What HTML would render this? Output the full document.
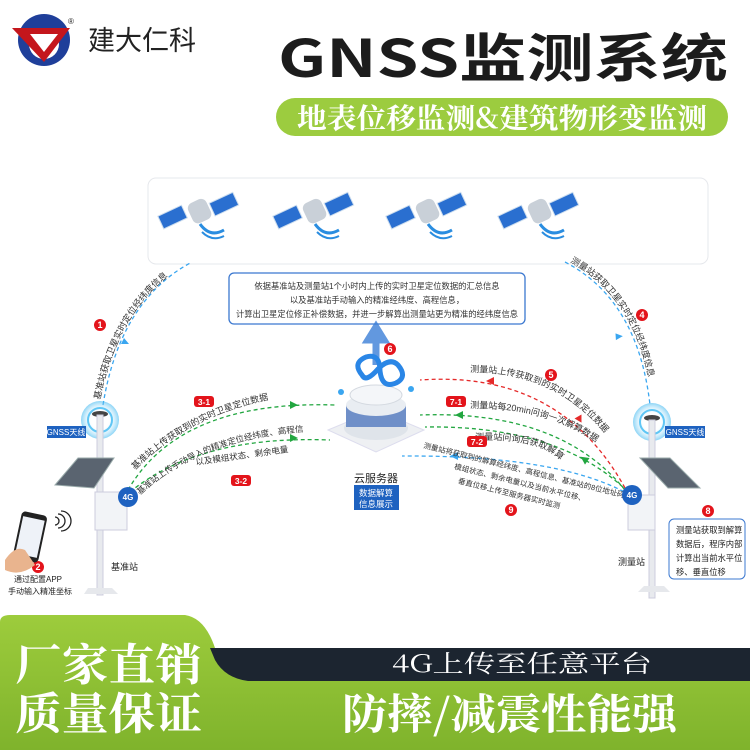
<!DOCTYPE html>
<html><head><meta charset="utf-8"><style>
html,body{margin:0;padding:0;background:#fff}
svg{display:block}
text{font-family:"Liberation Sans","Noto Sans CJK SC",sans-serif}
.s{font-family:"Noto Serif CJK SC","Liberation Serif",serif}
.t{font-family:"Noto Sans CJK SC",sans-serif}
</style></head><body>
<svg width="750" height="750" viewBox="0 0 750 750" xmlns="http://www.w3.org/2000/svg">
<defs>
<radialGradient id="ring" cx="50%" cy="50%" r="50%"><stop offset="0.4" stop-color="#fff" stop-opacity="0"/><stop offset="1" stop-color="#3fb8f0" stop-opacity="0.6"/></radialGradient>
<linearGradient id="gb" x1="0" y1="0" x2="0" y2="1"><stop offset="0" stop-color="#9dcc3c"/><stop offset="1" stop-color="#7fb32c"/></linearGradient>
<g id="sat">
<rect x="-40" y="-14" width="26" height="14" fill="#2a6fd0" stroke="#cde" transform="rotate(-25)"/>
<rect x="12" y="-4" width="26" height="14" fill="#2a6fd0" stroke="#cde" transform="rotate(-25)"/>
<rect x="-10" y="-12" width="20" height="22" rx="6" fill="#c9d0d8" transform="rotate(-25)"/>
<path d="M0,12 q10,14 24,6" fill="none" stroke="#2a8de0" stroke-width="3"/>
<path d="M2,20 q10,10 22,4" fill="none" stroke="#2a8de0" stroke-width="2"/>
</g>
<path id="p1" d="M100,400 Q120,300 190,262"/>
<path id="p4" d="M570,262 Q640,300 652,400"/>
<path id="p31" d="M135,470 Q200,405 300,395"/>
<path id="p32" d="M140,495 Q200,440 300,432"/>
<path id="p5" d="M470,372 Q560,372 610,440"/>
<path id="p71" d="M470,408 Q550,408 600,445"/>
<path id="p72" d="M475,440 Q540,438 560,460"/>
</defs>

<!-- logo -->
<circle cx="44" cy="40" r="26" fill="#1f3f9a"/>
<circle cx="44" cy="44" r="15" fill="#fff"/>
<path d="M12,28 L70,28 L44,62z" fill="#c4161c"/>
<path d="M30,34 L58,34 L44,52z" fill="#fff"/>
<text x="88" y="50" font-size="27" fill="#222">建大仁科</text>
<text x="68" y="24" font-size="8" fill="#222">®</text>

<!-- title -->
<text x="278" y="77" class="t" font-size="52" font-weight="bold" fill="#1c1c1c" textLength="450" lengthAdjust="spacingAndGlyphs">GNSS监测系统</text>
<rect x="276" y="98" width="452" height="38" rx="19" fill="#9ccc3f"/>
<text x="297" y="128" class="s" font-size="28" font-weight="bold" fill="#fff" textLength="410" lengthAdjust="spacingAndGlyphs">地表位移监测&amp;建筑物形变监测</text>

<!-- satellite box -->
<rect x="148" y="178" width="560" height="86" rx="8" fill="#fff" stroke="#e6e8ec"/>
<use href="#sat" x="200" y="212"/><use href="#sat" x="315" y="212"/><use href="#sat" x="428" y="212"/><use href="#sat" x="540" y="212"/>

<!-- info box -->
<rect x="229" y="273" width="296" height="51" rx="5" fill="#fff" stroke="#3b78d0" stroke-width="1.3"/>
<g font-size="8.3" fill="#333" text-anchor="middle">
<text x="377" y="289">依据基准站及测量站1个小时内上传的实时卫星定位数据的汇总信息</text>
<text x="377" y="303">以及基准站手动输入的精准经纬度、高程信息，</text>
<text x="377" y="317">计算出卫星定位修正补偿数据，并进一步解算出测量站更为精准的经纬度信息</text>
</g>
<path d="M376,365 L376,340 L368,340 L376,327 L384,340 L376,340" fill="#3b7fd8" stroke="#3b7fd8" stroke-width="7" opacity="0.8"/>

<!-- arcs -->
<g fill="none" stroke-width="1.3" stroke-dasharray="4,3">
<path d="M103,405 Q120,300 192,262" stroke="#3aa6f0"/>
<path d="M565,262 Q638,300 650,405" stroke="#3aa6f0"/>
<path d="M128,490 Q180,400 335,405" stroke="#22a640"/>
<path d="M130,492 Q200,435 330,440" stroke="#22a640"/>
<path d="M625,488 Q560,370 420,380" stroke="#e52a2a"/>
<path d="M625,490 Q560,410 420,415" stroke="#22a640"/>
<path d="M628,492 Q560,425 425,427" stroke="#22a640"/>
<path d="M630,495 Q560,455 402,456" stroke="#3aa6f0"/>
</g>
<path d="M124,338 l5,6 l-8,0z" fill="#3aa6f0"/>
<path d="M617,333 l5,6 l-8,0z" fill="#3aa6f0" transform="rotate(-30 617 336)"/>
<path d="M290,405 l8,-4 l0,8z" fill="#22a640" transform="rotate(180 294 405)"/>
<path d="M290,438 l8,-4 l0,8z" fill="#22a640" transform="rotate(180 294 438)"/>
<path d="M486,381 l8,-4 l0,8z" fill="#e52a2a"/>
<path d="M577,420 l7,-4 l0,8z" fill="#e52a2a" transform="rotate(-120 580 420)"/>
<path d="M455,415 l8,-4 l0,8z" fill="#22a640"/>
<path d="M580,459 l8,-4 l0,8z" fill="#22a640" transform="rotate(35 584 459)"/>
<path d="M450,456 l8,-4 l0,8z" fill="#3aa6f0"/>

<g font-size="9" fill="#333">
<text><textPath href="#p1">基准站获取卫星实时定位经纬度信息</textPath></text>
<text><textPath href="#p4">测量站获取卫星实时定位经纬度信息</textPath></text>
<text><textPath href="#p31">基准站上传获取到的实时卫星定位数据</textPath></text>
<text font-size="8.5"><textPath href="#p32">基准站上传手动导入的精准定位经纬度、高程信息</textPath></text>
<text x="196" y="465" font-size="8.5" transform="rotate(-8 196 465)">以及模组状态、剩余电量</text>
<text><textPath href="#p5">测量站上传获取到的实时卫星定位数据</textPath></text>
<text><textPath href="#p71">测量站每20min问询一次解算数据</textPath></text>
<text><textPath href="#p72">测量站问询后获取解算数据</textPath></text>
</g>
<g font-size="7.5" fill="#333" transform="rotate(14 500 470)">
<text x="420" y="467">测量站将获取到的解算经纬度、高程信息、基准站的8位地址码、</text>
<text x="455" y="480">模组状态、剩余电量以及当前水平位移、</text>
<text x="462" y="493">垂直位移上传至服务器实时监测</text>
</g>

<!-- number badges -->
<g font-size="9" font-weight="bold" fill="#fff" text-anchor="middle">
<circle cx="100" cy="325" r="6" fill="#e3141b"/><text x="100" y="328">1</text>
<circle cx="38" cy="567" r="6" fill="#e3141b"/><text x="38" y="570">2</text>
<circle cx="642" cy="315" r="6" fill="#e3141b"/><text x="642" y="318">4</text>
<circle cx="551" cy="375" r="6" fill="#e3141b"/><text x="551" y="378">5</text>
<circle cx="390" cy="349" r="6" fill="#e3141b"/><text x="390" y="352">6</text>
<circle cx="708" cy="511" r="6" fill="#e3141b"/><text x="708" y="514">8</text>
<circle cx="511" cy="510" r="6" fill="#e3141b"/><text x="511" y="513">9</text>
<rect x="194" y="396" width="20" height="11" rx="3" fill="#e3141b"/><text x="204" y="405" font-size="8.5">3-1</text>
<rect x="231" y="475" width="20" height="11" rx="3" fill="#e3141b"/><text x="241" y="484" font-size="8.5">3-2</text>
<rect x="446" y="396" width="20" height="11" rx="3" fill="#e3141b"/><text x="456" y="405" font-size="8.5">7-1</text>
<rect x="467" y="436" width="20" height="11" rx="3" fill="#e3141b"/><text x="477" y="445" font-size="8.5">7-2</text>
</g>

<!-- server -->
<path d="M328,430 L376,410 L424,430 L376,452z" fill="#eef0f3" stroke="#dde"/>
<ellipse cx="376" cy="428" rx="32" ry="12" fill="#dfe4ea"/>
<rect x="346" y="405" width="60" height="22" fill="#6f8fc8"/>
<ellipse cx="376" cy="405" rx="30" ry="11" fill="#e9edf2"/>
<ellipse cx="376" cy="395" rx="26" ry="10" fill="#f4f6f9" stroke="#d4d9e0"/>
<path d="M362,375 q-10,-12 4,-18 q14,-4 14,14 q2,18 16,12 q12,-6 2,-18 q-8,-8 -20,4 q-12,14 -16,6z" fill="none" stroke="#2a86e6" stroke-width="5"/>
<circle cx="341" cy="392" r="3" fill="#3aa6f0"/><circle cx="411" cy="389" r="3" fill="#3aa6f0"/>
<text x="376" y="482" font-size="11" text-anchor="middle" fill="#222">云服务器</text>
<rect x="354" y="485" width="45" height="25" fill="#1e62c0"/>
<text x="376" y="496" font-size="8.5" text-anchor="middle" fill="#fff">数据解算</text>
<text x="376" y="507" font-size="8.5" text-anchor="middle" fill="#fff">信息展示</text>

<!-- left station -->
<circle cx="100" cy="420" r="19" fill="url(#ring)"/>
<circle cx="100" cy="420" r="12" fill="none" stroke="#5fc6f5" stroke-width="2"/>
<ellipse cx="100" cy="414" rx="8" ry="3" fill="#444"/>
<rect x="97" y="415" width="6" height="180" fill="#e8eaee" stroke="#ccd"/>
<rect x="47" y="426" width="39" height="12" fill="#1e62c0"/>
<text x="66" y="435" font-size="8" text-anchor="middle" fill="#fff">GNSS天线</text>
<path d="M55,485 L78,458 L114,458 L94,488z" fill="#5a6470" stroke="#9aa"/>
<rect x="95" y="492" width="32" height="38" fill="#f2f4f7" stroke="#ccd"/>
<circle cx="128" cy="497" r="10" fill="#1e62c0"/>
<text x="128" y="500" font-size="8" font-weight="bold" text-anchor="middle" fill="#fff">4G</text>
<path d="M84,594 L118,594 L112,588 L88,588z" fill="#e6e8ec"/>
<text x="111" y="570" font-size="9" fill="#222">基准站</text>
<g transform="rotate(12 30 537)"><rect x="17" y="513" width="26" height="48" rx="4" fill="#222"/><rect x="19" y="518" width="22" height="38" fill="#eef2f8"/></g>
<path d="M5,560 q10,-15 20,-10 l10,15 q-15,12 -30,5z" fill="#e9b48e"/>
<path d="M55,517 a4,4 0 0 1 0,8 M58,514 a7,7 0 0 1 0,14 M61,511 a10,10 0 0 1 0,20" fill="none" stroke="#222" stroke-width="1.3"/>
<text x="38" y="582" font-size="8" text-anchor="middle" fill="#222">通过配置APP</text>
<text x="40" y="594" font-size="8" text-anchor="middle" fill="#222">手动输入精准坐标</text>

<!-- right station -->
<circle cx="652" cy="422" r="19" fill="url(#ring)"/>
<circle cx="652" cy="422" r="12" fill="none" stroke="#5fc6f5" stroke-width="2"/>
<ellipse cx="652" cy="418" rx="8" ry="3" fill="#444"/>
<rect x="649" y="420" width="6" height="178" fill="#e8eaee" stroke="#ccd"/>
<rect x="665" y="426" width="40" height="12" fill="#1e62c0"/>
<text x="685" y="435" font-size="8" text-anchor="middle" fill="#fff">GNSS天线</text>
<path d="M640,458 L670,458 L700,488 L668,488z" fill="#5a6470" stroke="#9aa"/>
<rect x="628" y="495" width="27" height="35" fill="#f2f4f7" stroke="#ccd"/>
<circle cx="632" cy="495" r="10" fill="#1e62c0"/>
<text x="632" y="498" font-size="8" font-weight="bold" text-anchor="middle" fill="#fff">4G</text>
<path d="M638,592 L670,592 L664,586 L644,586z" fill="#e6e8ec"/>
<text x="618" y="565" font-size="9" fill="#222">测量站</text>
<rect x="669" y="519" width="76" height="60" rx="5" fill="#fff" stroke="#3b78d0"/>
<g font-size="8.3" fill="#222"><text x="676" y="533">测量站获取到解算</text><text x="676" y="547">数据后，程序内部</text><text x="676" y="561">计算出当前水平位</text><text x="676" y="575">移、垂直位移</text></g>

<!-- bottom banner -->
<path d="M0,622 Q0,615 10,615 L185,615 Q205,618 215,648 L750,648 L750,750 L0,750z" fill="url(#gb)"/>
<path d="M210,648 L750,648 L750,681 L248,681 Q225,678 215,660z" fill="#1c2530"/>
<text x="15" y="680" class="s" font-size="44" font-weight="bold" fill="#fff" textLength="187" lengthAdjust="spacingAndGlyphs">厂家直销</text>
<text x="15" y="729" class="s" font-size="44" font-weight="bold" fill="#fff" textLength="187" lengthAdjust="spacingAndGlyphs">质量保证</text>
<text x="392" y="672" class="s" font-size="24" fill="#fff" textLength="260" lengthAdjust="spacingAndGlyphs">4G上传至任意平台</text>
<text x="342" y="729" class="s" font-size="42" font-weight="bold" fill="#fff" textLength="335" lengthAdjust="spacingAndGlyphs">防摔/减震性能强</text>
</svg>
</body></html>
